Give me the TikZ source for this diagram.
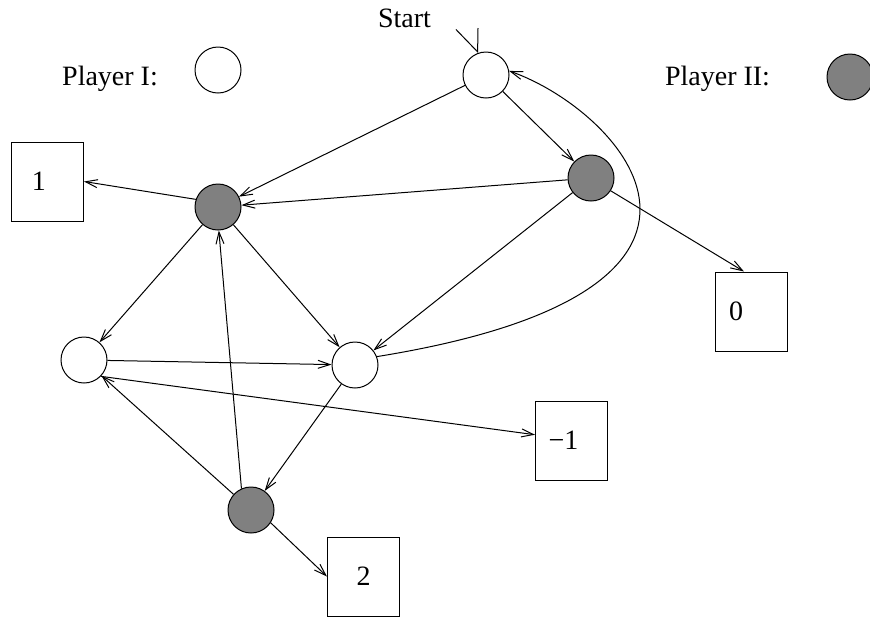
\documentclass[tikz,border=0pt]{standalone}
\usepackage{fontspec}
\setmainfont{Liberation Serif}
\usetikzlibrary{arrows.meta}

\begin{document}
\begin{tikzpicture}[
    x=0.5pt, y=-0.5pt,
    pone/.style={circle, draw, fill=white, minimum size=23pt, inner sep=0pt},
    ptwo/.style={circle, draw, fill=gray, minimum size=23pt, inner sep=0pt},
    payoff/.style={rectangle, draw, minimum width=36pt, minimum height=39.5pt, inner sep=0pt},
    arrow/.style={-{Straight Barb[length=6pt, width=4pt]}},
    entry/.style={-{Straight Barb[harpoon, swap, length=11pt, width=22pt]}},
    tag/.style={inner sep=0pt, anchor=base},
    every node/.append style={font=\fontsize{14}{17}\selectfont},
    line width=0.5pt
]
    \useasboundingbox (0,0) rectangle (870,617);

    % legend
    \node[tag] (lone) at (110,85) {Player I:};
    \node[pone] (kone) at (218,70) {};
    \node[tag] (ltwo) at (717.5,85) {Player II:};
    \node[ptwo] (ktwo) at (850,77) {};

    % positions
    \node[tag] (start) at (404.5,27) {Start};
    \node[pone] (w0) at (486,75) {};
    \node[ptwo] (g1) at (218,207) {};
    \node[ptwo] (g2) at (591,178) {};
    \node[pone] (w1) at (84,360) {};
    \node[pone] (w2) at (355,365) {};
    \node[ptwo] (g3) at (251,510) {};

    % payoffs (labels sit left of centre, as in the drawing)
    \node[payoff] (b1) at (47.5,181.5) {1\kern8.5pt};
    \node[payoff] (b0) at (751,311.5) {0\kern15pt};
    \node[payoff] (bm) at (571.5,440.5) {−1\kern8pt};
    \node[payoff] (b2) at (363.5,576.5) {2};

    \coordinate (in0) at (478,28);
    \draw[entry] (in0) -- (w0.111);

    \draw[arrow] (w0) -- (g1);
    \draw[arrow] (w0) -- (g2);
    \draw[arrow] (g2) -- (g1);
    \draw[arrow] (g1.161) -- (b1.east);
    \draw[arrow] (g2.-33) -- (b0.100);
    \draw[arrow] (g2) -- (w2);
    \draw[arrow] (w2.21) .. controls (790,290) and (620,110) .. (w0.10);
    \draw[arrow] (g1) -- (w1);
    \draw[arrow] (g1) -- (w2);
    \draw[arrow] (w1) -- (w2);
    \draw[arrow] (w1.-44) -- (bm.171);
    \draw[arrow] (w2) -- (g3);
    \draw[arrow] (g3.114) -- (g1.272);
    \draw[arrow] (g3) -- (w1);
    \draw[arrow] (g3.-33) -- (b2.west);

\end{tikzpicture}
\end{document}
